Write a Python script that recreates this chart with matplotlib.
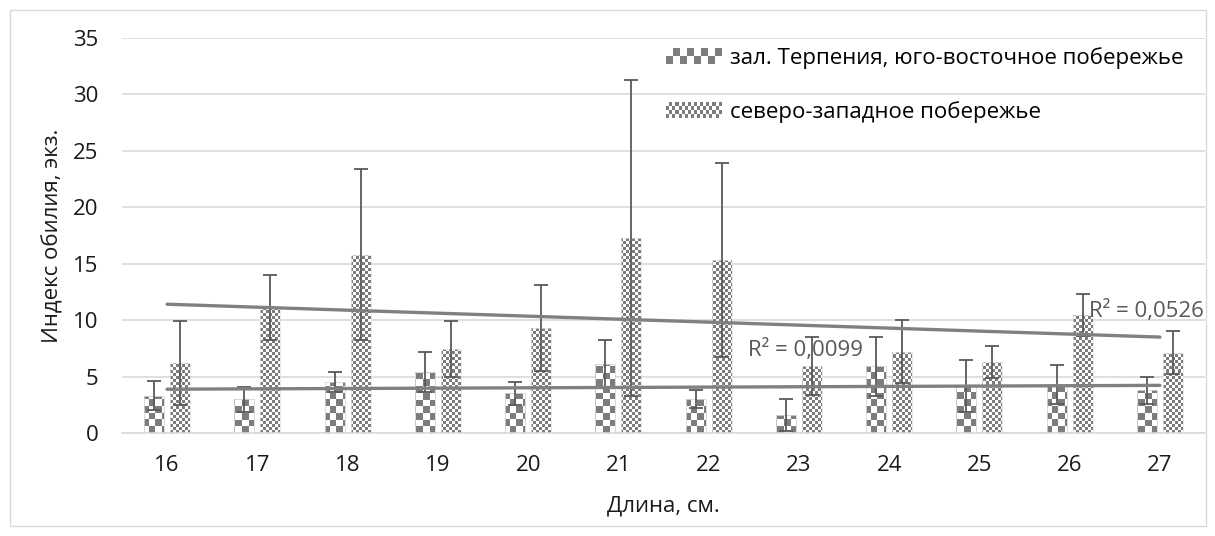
import numpy as np
import matplotlib.pyplot as plt
from matplotlib.patches import Rectangle
from matplotlib.legend_handler import HandlerBase

# data
lengths = [16, 17, 18, 19, 20, 21, 22, 23, 24, 25, 26, 27]
south_east = [3.3, 3.0, 4.5, 5.4, 3.5, 6.1, 3.0, 1.6, 5.9, 4.2, 4.3, 3.8]
south_east_err = [1.3, 1.1, 0.9, 1.8, 1.0, 2.1, 0.8, 1.4, 2.6, 2.3, 1.7, 1.2]
north_west = [6.2, 11.1, 15.8, 7.45, 9.3, 17.3, 15.3, 5.95, 7.2, 6.3, 10.45, 7.1]
north_west_err = [3.7, 2.9, 7.6, 2.45, 3.85, 14.0, 8.6, 2.55, 2.8, 1.4, 1.85, 1.9]
label_se = 'зал. Терпения, юго-восточное побережье'
label_nw = 'северо-западное побережье'
r2_se_text = 'R² = 0,0099'
r2_nw_text = 'R² = 0,0526'
y_ticks = [0, 5, 10, 15, 20, 25, 30, 35]

plt.rcParams['font.family'] = ['Open Sans', 'DejaVu Sans']
FS = 16
DARK = np.array([0.49, 0.49, 0.49])


def checker(nx, ny):
    grid = np.add.outer(np.arange(ny), np.arange(nx)) % 2
    img = np.ones((ny, nx, 3))
    img[grid == 0] = DARK
    return img


class CheckerHandler(HandlerBase):
    def __init__(self, ncols, nrows):
        super().__init__()
        self.ncols = ncols
        self.nrows = nrows

    def create_artists(self, legend, orig_handle, xdescent, ydescent,
                       width, height, fontsize, trans):
        arts = []
        cw = width / self.ncols
        ch = height / self.nrows
        for i in range(self.ncols):
            for j in range(self.nrows):
                if (i + j) % 2 == 0:
                    arts.append(Rectangle((-xdescent + i * cw, -ydescent + j * ch), cw, ch,
                                          facecolor=DARK, edgecolor='none', transform=trans))
        return arts


fig = plt.figure(figsize=(12.15, 5.36), dpi=100)
ax = fig.add_axes([0.1004, 0.1922, 0.8914, 0.7369])

x = np.arange(len(lengths))
w = 0.22
off = 0.144

b1 = ax.bar(x - off, south_east, w, facecolor='none', edgecolor='#d4d4d4', lw=0.6, zorder=3)
b2 = ax.bar(x + off, north_west, w, facecolor='none', edgecolor='#e0e0e0', lw=0.5, zorder=3)

ext = (-0.5, 11.5, 0, 35)
tex1 = checker(162, 59)
tex2 = checker(361, 132)
for p in b1:
    im = ax.imshow(tex1, extent=ext, aspect='auto', interpolation='nearest', origin='lower', zorder=2)
    im.set_clip_path(p)
for p in b2:
    im = ax.imshow(tex2, extent=ext, aspect='auto', interpolation='nearest', origin='lower', zorder=2)
    im.set_clip_path(p)

ax.errorbar(x - off, south_east, yerr=south_east_err, fmt='none', ecolor='#595959',
            elinewidth=1.3, capsize=5, capthick=1.3, zorder=4)
ax.errorbar(x + off, north_west, yerr=north_west_err, fmt='none', ecolor='#595959',
            elinewidth=1.3, capsize=5, capthick=1.3, zorder=4)

# linear trendlines
c1 = np.polyfit(lengths, south_east, 1)
c2 = np.polyfit(lengths, north_west, 1)
ax.plot(x, np.polyval(c1, lengths), color='#808080', lw=2.4, zorder=5, solid_capstyle='round')
ax.plot(x, np.polyval(c2, lengths), color='#808080', lw=2.4, zorder=5, solid_capstyle='round')

ax.text(6.44, 7.35, r2_se_text, fontsize=FS, color='#595959', va='center', ha='left', zorder=6)
ax.text(10.21, 10.8, r2_nw_text, fontsize=FS, color='#595959', va='center', ha='left', zorder=6)

ax.set_xlim(-0.5, 11.5)
ax.set_ylim(0, 35)
ax.set_xticks(x)
ax.set_xticklabels([str(v) for v in lengths])
ax.set_yticks(y_ticks)
ax.tick_params(length=0, labelsize=FS, labelcolor='#1a1a1a')
ax.tick_params(axis='y', pad=17)
ax.tick_params(axis='x', pad=16)
ax.yaxis.grid(True, color='#d9d9d9', lw=1.2)
ax.set_axisbelow(True)
for s in ['top', 'right', 'left']:
    ax.spines[s].set_visible(False)
ax.spines['bottom'].set_color('#d9d9d9')
ax.spines['bottom'].set_linewidth(1.2)

ax.set_xlabel('Длина, см.', fontsize=FS, color='#1a1a1a', labelpad=14)
ax.set_ylabel('Индекс обилия, экз.', fontsize=FS, color='#1a1a1a', labelpad=7)

h1 = Rectangle((0, 0), 1, 1)
h2 = Rectangle((0, 0), 1, 1)
ax.legend([h1, h2], [label_se, label_nw], loc='upper left', bbox_to_anchor=(0.484, 1.028),
          frameon=False, fontsize=FS, labelspacing=1.45, handlelength=2.5, handletextpad=0.36,
          handler_map={h1: CheckerHandler(8, 2), h2: CheckerHandler(18, 4)})

fig.patches.append(Rectangle((10 / 1215, 10 / 536), 1196 / 1215, 516 / 536, transform=fig.transFigure,
                             facecolor='none', edgecolor='#d9d9d9', lw=1))

plt.savefig('out.png', dpi=100)
